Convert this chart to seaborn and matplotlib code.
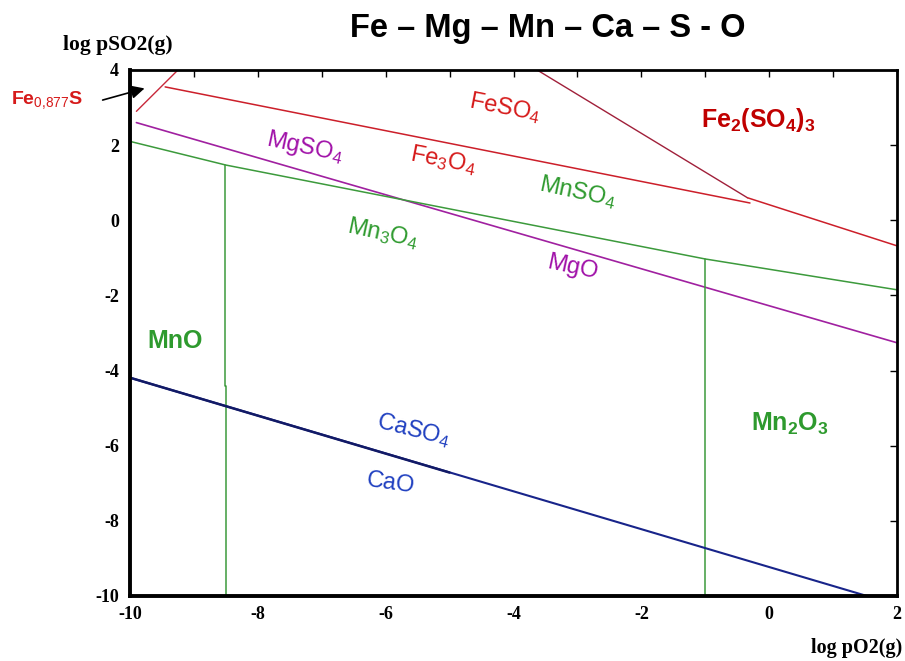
import matplotlib
matplotlib.use("Agg")
import matplotlib.pyplot as plt
import seaborn as sns
import pandas as pd
from matplotlib.ticker import MultipleLocator

# ---------------- data ----------------
fe_s_x = [-9.9, -9.25]
fe_s_y = [2.9, 4.0]
feso4_fe3o4_x = [-9.45, -0.3]
feso4_fe3o4_y = [3.55, 0.46]
feso4_fe2so43_x = [-3.63, -0.34]
feso4_fe2so43_y = [4.0, 0.6]
fe3o4_fe2so43_x = [-0.34, 2.0]
fe3o4_fe2so43_y = [0.6, -0.68]
mgso4_mgo_x = [-9.9, 2.0]
mgso4_mgo_y = [2.6, -3.26]
mnso4_oxide_x = [-10.0, -8.5, -1.0, 2.0]
mnso4_oxide_y = [2.1, 1.47, -1.03, -1.85]
mno_mn3o4_x = [-8.51, -8.51, -8.495, -8.495]
mno_mn3o4_y = [1.47, -4.4, -4.4, -10.0]
mn3o4_mn2o3_x = [-1.0, -1.0]
mn3o4_mn2o3_y = [-1.03, -10.0]
caso4_cao_x = [-10.0, 1.53]
caso4_cao_y = [-4.19, -10.0]
caso4_cao_dark_x = [-10.0, -5.0]
caso4_cao_dark_y = [-4.19, -6.715]

x_ticks = [-10, -8, -6, -4, -2, 0, 2]
y_ticks = [-10, -8, -6, -4, -2, 0, 2, 4]

label_texts = [r"FeSO$_4$", r"Fe$_3$O$_4$", r"MgSO$_4$", r"MnSO$_4$", r"Mn$_3$O$_4$",
               r"MgO", r"CaSO$_4$", r"CaO"]
label_x = [-4.13, -5.1, -7.26, -3.0, -6.04, -3.08, -5.57, -5.93]
label_y = [2.99, 1.6, 1.93, 0.76, -0.34, -1.27, -5.57, -7.0]
label_rot = [-11, -11, -12, -12, -12, -12, -14, -8]
label_col = ["#d61a1a", "#d61a1a", "#a010a8", "#2e9a2e", "#2e9a2e", "#a010a8", "#1f3fc0", "#1f3fc0"]

bold_texts = [r"Fe$_\mathbf{2}$(SO$_\mathbf{4}$)$_\mathbf{3}$", "MnO", r"Mn$_\mathbf{2}$O$_\mathbf{3}$"]
bold_x = [-0.17, -9.3, 0.33]
bold_y = [2.67, -3.2, -5.41]
bold_col = ["#c00000", "#2e9a2e", "#2e9a2e"]

# ---------------- style ----------------
sns.set_style("white")
plt.rcParams["font.family"] = ["Liberation Sans", "DejaVu Sans"]
plt.rcParams["text.color"] = "black"
plt.rcParams["xtick.color"] = "black"
plt.rcParams["ytick.color"] = "black"
plt.rcParams["mathtext.fontset"] = "custom"
plt.rcParams["mathtext.rm"] = "Liberation Sans"
plt.rcParams["mathtext.bf"] = "Liberation Sans:bold"
plt.rcParams["mathtext.it"] = "Liberation Sans:italic"

fig = plt.figure(figsize=(9.05, 6.61), dpi=100)
ax = fig.add_axes([130 / 905, 1 - 596 / 661, (897 - 130) / 905, (596 - 70) / 661])

lines = [
    (fe_s_x, fe_s_y, "#c8283a", 1.0),
    (feso4_fe3o4_x, feso4_fe3o4_y, "#cc1f2a", 1.1),
    (feso4_fe2so43_x, feso4_fe2so43_y, "#a0203a", 1.0),
    (fe3o4_fe2so43_x, fe3o4_fe2so43_y, "#cc1f2a", 1.1),
    (mgso4_mgo_x, mgso4_mgo_y, "#a020a0", 1.2),
    (mnso4_oxide_x, mnso4_oxide_y, "#3c9a3c", 1.1),
    (mno_mn3o4_x, mno_mn3o4_y, "#3c9a3c", 1.1),
    (mn3o4_mn2o3_x, mn3o4_mn2o3_y, "#3c9a3c", 1.1),
    (caso4_cao_x, caso4_cao_y, "#18248a", 1.5),
    (caso4_cao_dark_x, caso4_cao_dark_y, "#121a66", 1.8),
]
for xs, ys, c, lw in lines:
    df = pd.DataFrame({"x": xs, "y": ys})
    sns.lineplot(data=df, x="x", y="y", ax=ax, color=c, linewidth=lw,
                 estimator=None, sort=False, legend=False)

ax.set_xlim(-10, 2)
ax.set_ylim(-10, 4)
ax.set_xlabel("")
ax.set_ylabel("")
ax.xaxis.set_minor_locator(MultipleLocator(1))
ax.set_xticks(x_ticks)
ax.set_yticks(y_ticks)
ax.set_xticklabels([str(v) for v in x_ticks])
ax.set_yticklabels([str(v) for v in y_ticks])
ax.tick_params(which="both", direction="in", top=True, right=True, width=1, color="black",
               labelcolor="black")
ax.tick_params(which="major", length=5)
ax.tick_params(which="minor", length=5)
ax.tick_params(axis="x", pad=7)
ax.tick_params(axis="y", pad=8)
for lab in ax.get_xticklabels() + ax.get_yticklabels():
    lab.set_fontfamily("Liberation Serif")
    lab.set_fontweight("bold")
    lab.set_fontsize(13)
for side, lw in [("left", 2.8), ("bottom", 2.8), ("top", 2.0), ("right", 2.0)]:
    ax.spines[side].set_visible(True)
    ax.spines[side].set_color("black")
    ax.spines[side].set_linewidth(lw)

# region labels
for t, x, y, r, c in zip(label_texts, label_x, label_y, label_rot, label_col):
    ax.text(x, y, t, color=c, rotation=r, fontsize=17, ha="center", va="center",
            rotation_mode="anchor")
for t, x, y, c in zip(bold_texts, bold_x, bold_y, bold_col):
    ax.text(x, y, t, color=c, fontsize=18, fontweight="bold", ha="center", va="center")

# Fe0,877S label with arrow
ax.annotate("", xy=(-9.73, 3.53), xytext=(-10.47, 3.18), xycoords="data",
            annotation_clip=False,
            arrowprops=dict(arrowstyle="-|>", color="black", lw=1.2, mutation_scale=20))
fig.text(47 / 905, 1 - 100 / 661, r"Fe$_{0{,}877}$S", color="#d61a1a", fontsize=14,
         fontweight="bold", ha="center", va="center")

# title and axis labels
fig.text(548 / 905, 1 - 28 / 661, "Fe – Mg – Mn – Ca – S - O", fontsize=23.5,
         fontweight="bold", ha="center", va="center", color="black")
fig.text(118 / 905, 1 - 45 / 661, "log pSO2(g)", family="Liberation Serif",
         fontweight="bold", fontsize=15.5, ha="center", va="center", color="black")
fig.text(902 / 905, 1 - 648 / 661, "log pO2(g)", family="Liberation Serif",
         fontweight="bold", fontsize=14.5, ha="right", va="center", color="black")

fig.savefig("out.png", dpi=100)
